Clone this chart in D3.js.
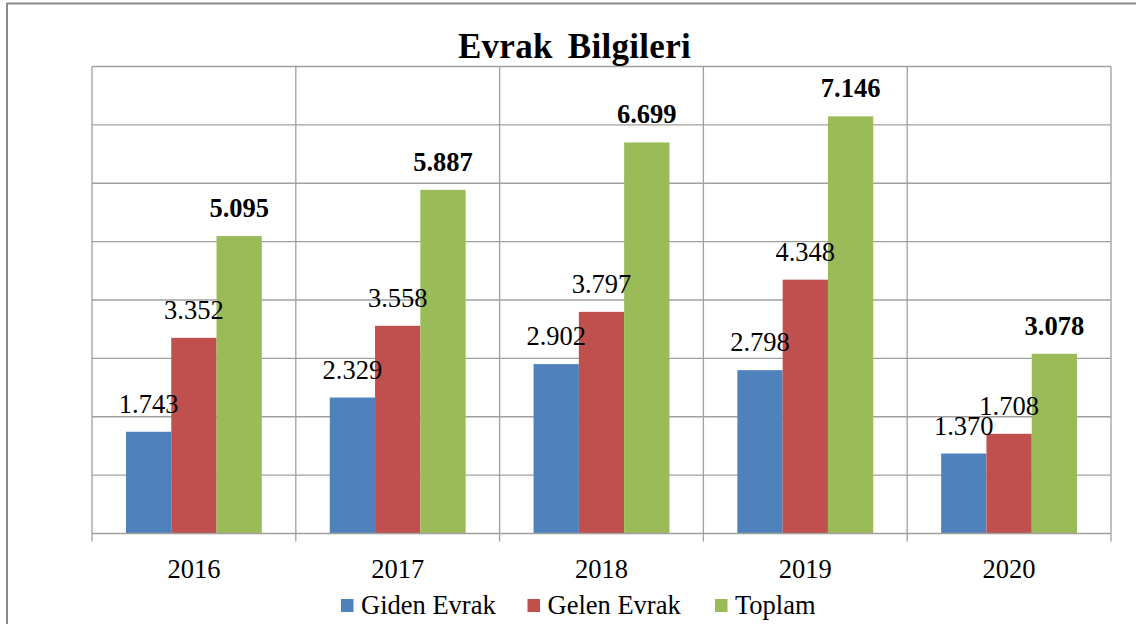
<!DOCTYPE html>
<html>
<head>
<meta charset="utf-8">
<script src="https://cdn.jsdelivr.net/npm/d3@7"></script>
<style>
  body { margin: 0; background: #fff; }
  svg { display: block; }
  svg text { font-family: "Liberation Serif", "Times New Roman", serif; }
</style>
</head>
<body>
<svg id="chart" width="1136" height="624"></svg>
<script>
// data
const years = ["2016", "2017", "2018", "2019", "2020"]
const seriesNames = ["Giden Evrak", "Gelen Evrak", "Toplam"]
const giden = [1743, 2329, 2902, 2798, 1370]
const gelen = [3352, 3558, 3797, 4348, 1708]
const toplam = [5095, 5887, 6699, 7146, 3078]
const yTicks = [0, 1000, 2000, 3000, 4000, 5000, 6000, 7000, 8000]

const colors = ["#4F81BD", "#C0504D", "#9BBB59"]
const allSeries = [giden, gelen, toplam]

const svg = d3.select("#chart")
const plot = {left: 92, right: 1111, top: 66.5, bottom: 533.5}

// outer frame
svg.append("rect").attr("x", 7).attr("y", 3.5).attr("width", 1140).attr("height", 640)
  .attr("fill", "none").attr("stroke", "#8c8c8c").attr("stroke-width", 2)

const x0 = d3.scaleBand().domain(years).range([plot.left, plot.right])
// gap width 150% -> bars take 3/4.5 of band
const x1 = d3.scaleBand().domain(seriesNames).range([0, x0.bandwidth()]).paddingOuter(0.75).paddingInner(0)
const y = d3.scaleLinear().domain([0, 8000]).range([plot.bottom, plot.top])

// horizontal gridlines
svg.append("g").selectAll("line").data(yTicks.slice(1)).join("line")
  .attr("x1", plot.left).attr("x2", plot.right)
  .attr("y1", d => y(d)).attr("y2", d => y(d))
  .attr("stroke", "#a0a0a0").attr("stroke-width", 1.3)

// vertical category lines
const bounds = years.map(d => x0(d)).concat([plot.right])
svg.append("g").selectAll("line").data(bounds).join("line")
  .attr("x1", d => d).attr("x2", d => d)
  .attr("y1", plot.top).attr("y2", plot.bottom + 8)
  .attr("stroke", "#a0a0a0").attr("stroke-width", 1.3)

// bars
const groups = svg.append("g").selectAll("g").data(years).join("g")
  .attr("transform", d => `translate(${x0(d)},0)`)

seriesNames.forEach((name, si) => {
  groups.append("rect")
    .attr("x", x1(name))
    .attr("width", x1.bandwidth())
    .attr("y", (d, i) => y(allSeries[si][i]))
    .attr("height", (d, i) => plot.bottom - y(allSeries[si][i]))
    .attr("fill", colors[si])
})

// x axis baseline
svg.append("line").attr("x1", plot.left).attr("x2", plot.right)
  .attr("y1", plot.bottom).attr("y2", plot.bottom)
  .attr("stroke", "#a0a0a0").attr("stroke-width", 1.3)

// value labels
const fmt = v => d3.format(",")(v).replace(",", ".")
seriesNames.forEach((name, si) => {
  groups.append("text")
    .attr("x", x1(name) + x1.bandwidth() / 2)
    .attr("y", (d, i) => y(allSeries[si][i]) - 19)
    .attr("text-anchor", "middle")
    .attr("font-size", 26.5)
    .attr("font-weight", si == 2 ? "bold" : "normal")
    .attr("fill", "#000")
    .text((d, i) => fmt(allSeries[si][i]))
})

// category labels
svg.append("g").selectAll("text").data(years).join("text")
  .attr("x", d => x0(d) + x0.bandwidth() / 2)
  .attr("y", 578)
  .attr("text-anchor", "middle")
  .attr("font-size", 26.5)
  .text(d => d)

// title
svg.append("text").attr("x", 574.5).attr("y", 57.5).attr("text-anchor", "middle")
  .attr("font-size", 35).attr("font-weight", "bold").attr("word-spacing", 6)
  .attr("letter-spacing", 0.3)
  .text("Evrak Bilgileri")

// legend
const legendX = [341, 527.5, 715]
const lg = svg.append("g").selectAll("g").data(seriesNames).join("g")
  .attr("transform", (d, i) => `translate(${legendX[i]},599)`)
lg.append("rect").attr("width", 12.5).attr("height", 13).attr("fill", (d, i) => colors[i])
lg.append("text").attr("x", 20).attr("y", 15).attr("font-size", 26.5).text(d => d)
</script>
</body>
</html>
